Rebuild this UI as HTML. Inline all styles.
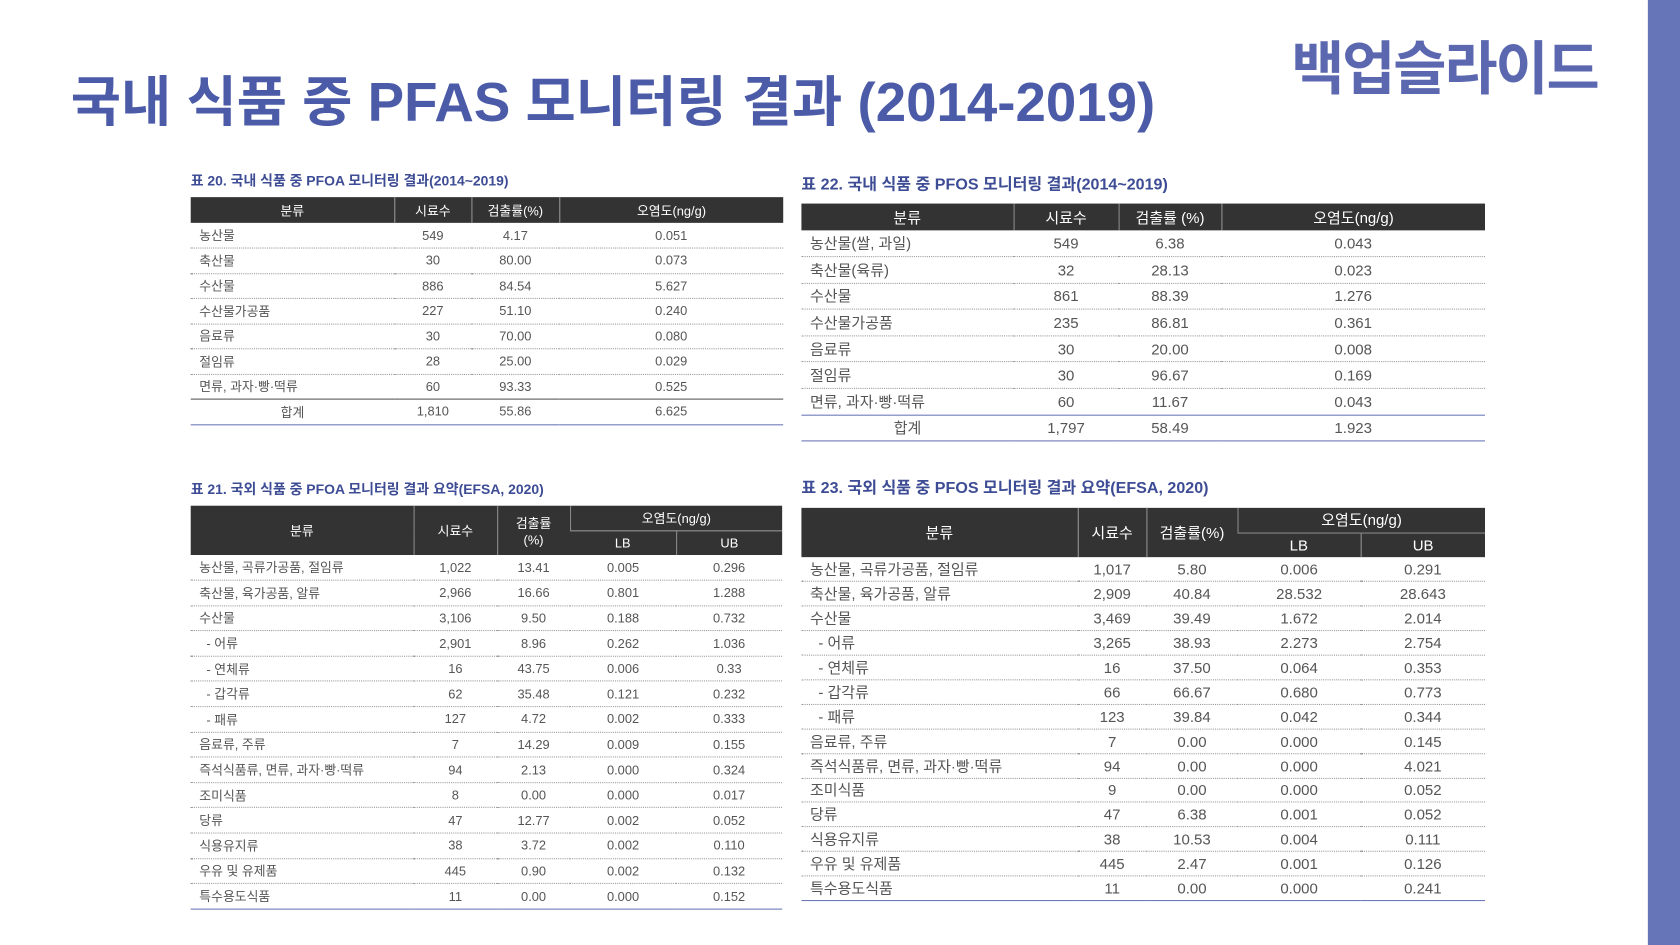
<!DOCTYPE html>
<html><head><meta charset="utf-8"><style>
html,body{margin:0;padding:0;background:#fff;}
body{width:1680px;height:945px;overflow:hidden;position:relative;}
#w{position:absolute;left:0;top:0;width:1568px;height:882px;transform:scale(1.07143);transform-origin:0 0;font-family:"Liberation Sans","Noto Sans CJK KR",sans-serif;}
.bar{position:absolute;left:1538px;top:0;width:30px;height:882px;background:#6674b8;}
.t{position:absolute;left:66px;top:54px;font-size:51px;font-weight:bold;color:#4b5ba8;letter-spacing:0px;white-space:nowrap;}
.b{position:absolute;left:1205px;top:20px;font-size:54px;font-weight:bold;color:#5b68b0;letter-spacing:-2px;white-space:nowrap;}
.cap{position:absolute;color:#3d4c94;font-weight:bold;white-space:nowrap;}
table{position:absolute;border-collapse:collapse;table-layout:fixed;color:#555;}
th{background:#333;color:#fff;font-weight:normal;border-left:1px solid #888;padding:0;}
th:first-child{border-left:none;}
td{padding:0;text-align:center;border-bottom:1px dotted #999;white-space:nowrap;}
td:first-child{text-align:left;padding-left:8px;}
tr:last-child td{border-bottom:1px solid #6a78b8;}
</style></head><body><div id="w">
<div class="bar"></div>
<div class="t">국내 식품 중 PFAS 모니터링 결과 (2014-2019)</div>
<div class="b">백업슬라이드</div>

<div class="cap" style="left:178px;top:158px;font-size:13px;">표 20. 국내 식품 중 PFOA 모니터링 결과(2014~2019)</div>
<table style="left:178px;top:184px;width:553px;font-size:12px;">
<colgroup><col style="width:190px"><col style="width:72px"><col style="width:82px"><col style="width:209px"></colgroup>
<tr style="height:24px"><th>분류</th><th>시료수</th><th>검출률(%)</th><th>오염도(ng/g)</th></tr>
<tr style="height:23.5px"><td>농산물</td><td>549</td><td>4.17</td><td>0.051</td></tr>
<tr style="height:23.5px"><td>축산물</td><td>30</td><td>80.00</td><td>0.073</td></tr>
<tr style="height:23.5px"><td>수산물</td><td>886</td><td>84.54</td><td>5.627</td></tr>
<tr style="height:23.5px"><td>수산물가공품</td><td>227</td><td>51.10</td><td>0.240</td></tr>
<tr style="height:23.5px"><td>음료류</td><td>30</td><td>70.00</td><td>0.080</td></tr>
<tr style="height:23.5px"><td>절임류</td><td>28</td><td>25.00</td><td>0.029</td></tr>
<tr style="height:23.5px"><td style="border-bottom:1px solid #555">면류, 과자·빵·떡류</td><td style="border-bottom:1px solid #555">60</td><td style="border-bottom:1px solid #555">93.33</td><td style="border-bottom:1px solid #555">0.525</td></tr>
<tr style="height:23.5px"><td style="text-align:center;padding:0">합계</td><td>1,810</td><td>55.86</td><td>6.625</td></tr>
</table>

<div class="cap" style="left:748px;top:161px;font-size:15px;">표 22. 국내 식품 중 PFOS 모니터링 결과(2014~2019)</div>
<table style="left:748px;top:190px;width:638px;font-size:14px;">
<colgroup><col style="width:198px"><col style="width:98px"><col style="width:96px"><col style="width:246px"></colgroup>
<tr style="height:25px"><th>분류</th><th>시료수</th><th>검출률 (%)</th><th>오염도(ng/g)</th></tr>
<tr style="height:24.6px"><td>농산물(쌀, 과일)</td><td>549</td><td>6.38</td><td>0.043</td></tr>
<tr style="height:24.6px"><td>축산물(육류)</td><td>32</td><td>28.13</td><td>0.023</td></tr>
<tr style="height:24.6px"><td>수산물</td><td>861</td><td>88.39</td><td>1.276</td></tr>
<tr style="height:24.6px"><td>수산물가공품</td><td>235</td><td>86.81</td><td>0.361</td></tr>
<tr style="height:24.6px"><td>음료류</td><td>30</td><td>20.00</td><td>0.008</td></tr>
<tr style="height:24.6px"><td>절임류</td><td>30</td><td>96.67</td><td>0.169</td></tr>
<tr style="height:24.6px"><td style="border-bottom:1px solid #6a78b8">면류, 과자·빵·떡류</td><td style="border-bottom:1px solid #6a78b8">60</td><td style="border-bottom:1px solid #6a78b8">11.67</td><td style="border-bottom:1px solid #6a78b8">0.043</td></tr>
<tr style="height:24.6px"><td style="text-align:center;padding:0">합계</td><td>1,797</td><td>58.49</td><td>1.923</td></tr>
</table>

<div class="cap" style="left:178px;top:446px;font-size:13px;">표 21. 국외 식품 중 PFOA 모니터링 결과 요약(EFSA, 2020)</div>
<table style="left:178px;top:472px;width:552px;font-size:12px;">
<colgroup><col style="width:208px"><col style="width:78px"><col style="width:68px"><col style="width:99px"><col style="width:99px"></colgroup>
<tr style="height:23px"><th rowspan="2">분류</th><th rowspan="2">시료수</th><th rowspan="2">검출률<br>(%)</th><th colspan="2" style="border-bottom:1px solid #888">오염도(ng/g)</th></tr>
<tr style="height:23px"><th>LB</th><th>UB</th></tr>
<tr style="height:23.6px"><td>농산물, 곡류가공품, 절임류</td><td>1,022</td><td>13.41</td><td>0.005</td><td>0.296</td></tr>
<tr style="height:23.6px"><td>축산물, 육가공품, 알류</td><td>2,966</td><td>16.66</td><td>0.801</td><td>1.288</td></tr>
<tr style="height:23.6px"><td>수산물</td><td>3,106</td><td>9.50</td><td>0.188</td><td>0.732</td></tr>
<tr style="height:23.6px"><td>&nbsp;&nbsp;- 어류</td><td>2,901</td><td>8.96</td><td>0.262</td><td>1.036</td></tr>
<tr style="height:23.6px"><td>&nbsp;&nbsp;- 연체류</td><td>16</td><td>43.75</td><td>0.006</td><td>0.33</td></tr>
<tr style="height:23.6px"><td>&nbsp;&nbsp;- 갑각류</td><td>62</td><td>35.48</td><td>0.121</td><td>0.232</td></tr>
<tr style="height:23.6px"><td>&nbsp;&nbsp;- 패류</td><td>127</td><td>4.72</td><td>0.002</td><td>0.333</td></tr>
<tr style="height:23.6px"><td>음료류, 주류</td><td>7</td><td>14.29</td><td>0.009</td><td>0.155</td></tr>
<tr style="height:23.6px"><td>즉석식품류, 면류, 과자·빵·떡류</td><td>94</td><td>2.13</td><td>0.000</td><td>0.324</td></tr>
<tr style="height:23.6px"><td>조미식품</td><td>8</td><td>0.00</td><td>0.000</td><td>0.017</td></tr>
<tr style="height:23.6px"><td>당류</td><td>47</td><td>12.77</td><td>0.002</td><td>0.052</td></tr>
<tr style="height:23.6px"><td>식용유지류</td><td>38</td><td>3.72</td><td>0.002</td><td>0.110</td></tr>
<tr style="height:23.6px"><td>우유 및 유제품</td><td>445</td><td>0.90</td><td>0.002</td><td>0.132</td></tr>
<tr style="height:23.6px"><td>특수용도식품</td><td>11</td><td>0.00</td><td>0.000</td><td>0.152</td></tr>
</table>

<div class="cap" style="left:748px;top:444px;font-size:15px;">표 23. 국외 식품 중 PFOS 모니터링 결과 요약(EFSA, 2020)</div>
<table style="left:748px;top:474px;width:638px;font-size:14px;">
<colgroup><col style="width:258px"><col style="width:64px"><col style="width:85px"><col style="width:115px"><col style="width:116px"></colgroup>
<tr style="height:23px"><th rowspan="2">분류</th><th rowspan="2">시료수</th><th rowspan="2">검출률(%)</th><th colspan="2" style="border-bottom:1px solid #888">오염도(ng/g)</th></tr>
<tr style="height:23px"><th>LB</th><th>UB</th></tr>
<tr style="height:22.9px"><td>농산물, 곡류가공품, 절임류</td><td>1,017</td><td>5.80</td><td>0.006</td><td>0.291</td></tr>
<tr style="height:22.9px"><td>축산물, 육가공품, 알류</td><td>2,909</td><td>40.84</td><td>28.532</td><td>28.643</td></tr>
<tr style="height:22.9px"><td>수산물</td><td>3,469</td><td>39.49</td><td>1.672</td><td>2.014</td></tr>
<tr style="height:22.9px"><td>&nbsp;&nbsp;- 어류</td><td>3,265</td><td>38.93</td><td>2.273</td><td>2.754</td></tr>
<tr style="height:22.9px"><td>&nbsp;&nbsp;- 연체류</td><td>16</td><td>37.50</td><td>0.064</td><td>0.353</td></tr>
<tr style="height:22.9px"><td>&nbsp;&nbsp;- 갑각류</td><td>66</td><td>66.67</td><td>0.680</td><td>0.773</td></tr>
<tr style="height:22.9px"><td>&nbsp;&nbsp;- 패류</td><td>123</td><td>39.84</td><td>0.042</td><td>0.344</td></tr>
<tr style="height:22.9px"><td>음료류, 주류</td><td>7</td><td>0.00</td><td>0.000</td><td>0.145</td></tr>
<tr style="height:22.9px"><td>즉석식품류, 면류, 과자·빵·떡류</td><td>94</td><td>0.00</td><td>0.000</td><td>4.021</td></tr>
<tr style="height:22.9px"><td>조미식품</td><td>9</td><td>0.00</td><td>0.000</td><td>0.052</td></tr>
<tr style="height:22.9px"><td>당류</td><td>47</td><td>6.38</td><td>0.001</td><td>0.052</td></tr>
<tr style="height:22.9px"><td>식용유지류</td><td>38</td><td>10.53</td><td>0.004</td><td>0.111</td></tr>
<tr style="height:22.9px"><td>우유 및 유제품</td><td>445</td><td>2.47</td><td>0.001</td><td>0.126</td></tr>
<tr style="height:22.9px"><td>특수용도식품</td><td>11</td><td>0.00</td><td>0.000</td><td>0.241</td></tr>
</table>
</div></body></html>
